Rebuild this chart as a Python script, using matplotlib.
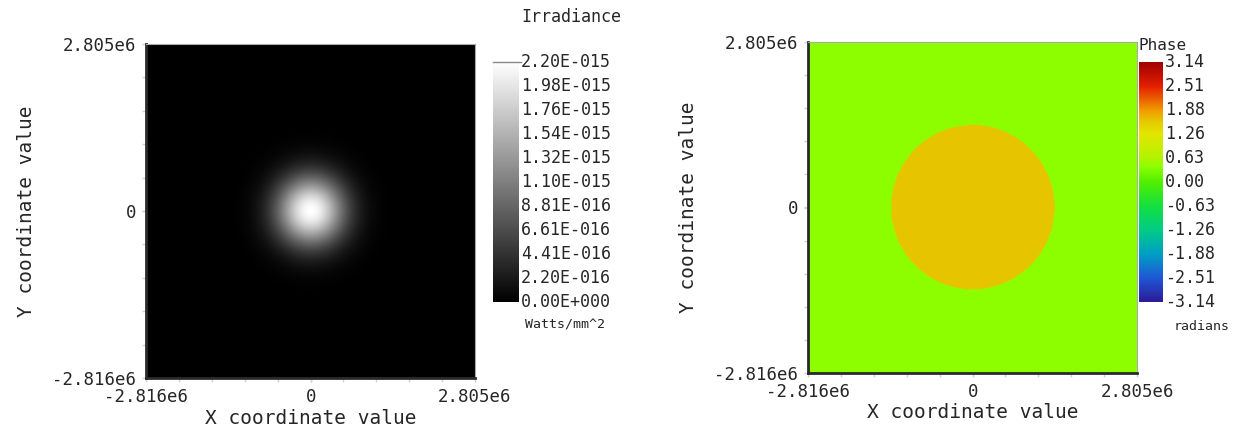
import numpy as np
import matplotlib
matplotlib.use("Agg")
import matplotlib.pyplot as plt
from matplotlib.colors import LinearSegmentedColormap

# detector extent (same for both maps)
x_min, x_max = -2.816e6, 2.805e6
y_min, y_max = -2.816e6, 2.805e6
axis_ticks_x = [-2.816e6, 0, 2.805e6]
axis_ticks_y = [-2.816e6, 0, 2.805e6]
axis_tick_labels_x = ["-2.816e6", "0", "2.805e6"]
axis_tick_labels_y = ["-2.816e6", "0", "2.805e6"]

# irradiance: gaussian spot
peak_irradiance = 2.20e-15        # Watts/mm^2
beam_radius = 0.82e6              # 1/e^2 radius
irr_levels = [2.20e-15, 1.98e-15, 1.76e-15, 1.54e-15, 1.32e-15, 1.10e-15,
              8.81e-16, 6.61e-16, 4.41e-16, 2.20e-16, 0.0]
irr_labels = ["2.20E-015", "1.98E-015", "1.76E-015", "1.54E-015", "1.32E-015",
              "1.10E-015", "8.81E-016", "6.61E-016", "4.41E-016", "2.20E-016",
              "0.00E+000"]

# phase: flat background with a circular step in the middle
phase_background = 0.40
phase_disk = 1.60
disk_radius = 1.40e6
phase_levels = [3.14, 2.51, 1.88, 1.26, 0.63, 0.00, -0.63, -1.26, -1.88, -2.51, -3.14]
phase_labels = ["3.14", "2.51", "1.88", "1.26", "0.63", "0.00",
                "-0.63", "-1.26", "-1.88", "-2.51", "-3.14"]

# phase palette (value, colour)
phase_nodes = [(-3.14, "#2c1c98"), (-2.51, "#1f58d6"), (-1.88, "#00a0c4"),
               (-1.26, "#00cc86"), (-0.63, "#14e040"), (0.00, "#52f000"),
               (0.40, "#8cff00"), (0.63, "#b2f400"), (1.26, "#e4e600"),
               (1.60, "#e6c800"), (1.88, "#f09c00"), (2.51, "#e42000"),
               (3.14, "#a00000")]

pmin, pmax = -3.14, 3.14
phase_cmap = LinearSegmentedColormap.from_list(
    "phase", [((v - pmin) / (pmax - pmin), c) for v, c in phase_nodes])

n = 300
xs = np.linspace(x_min, x_max, n)
ys = np.linspace(y_min, y_max, n)
X, Y = np.meshgrid(xs, ys)
R2 = X ** 2 + Y ** 2
irradiance = peak_irradiance * np.exp(-2 * R2 / beam_radius ** 2)
phase = np.where(R2 <= disk_radius ** 2, phase_disk, phase_background)

mono = "DejaVu Sans Mono"
txt = "#262626"
W, H = 1236, 434
fig = plt.figure(figsize=(W / 100, H / 100), dpi=100)


def px_rect(x0, y0, x1, y1):
    return [x0 / W, 1 - y1 / H, (x1 - x0) / W, (y1 - y0) / H]


def style_axes(ax):
    ax.set_xlim(x_min, x_max)
    ax.set_ylim(y_min, y_max)
    ax.set_xticks(axis_ticks_x)
    ax.set_xticklabels(axis_tick_labels_x, family=mono, fontsize=12.5, color=txt)
    ax.set_yticks(axis_ticks_y)
    ax.set_yticklabels(axis_tick_labels_y, family=mono, fontsize=12.5, color=txt)
    ax.set_xticks(np.linspace(x_min, x_max, 11), minor=True)
    ax.set_yticks(np.linspace(y_min, y_max, 11), minor=True)
    ax.tick_params(which="both", length=3, color="#d0d0d0", width=1, pad=4)
    for side in ("left", "bottom"):
        ax.spines[side].set_color("#2a2a2a")
        ax.spines[side].set_linewidth(2)
    for side in ("top", "right"):
        ax.spines[side].set_color("#aaaaaa")
        ax.spines[side].set_linewidth(0.8)
    ax.set_xlabel("X coordinate value", family=mono, fontsize=14, color=txt, labelpad=2)
    ax.set_ylabel("Y coordinate value", family=mono, fontsize=14, color=txt, labelpad=12)


def level_colorbar(cax, cmap, vmin, vmax, labels, top_line=False):
    grad = np.linspace(vmax, vmin, 256).reshape(-1, 1)
    cax.imshow(grad, aspect="auto", cmap=cmap, vmin=vmin, vmax=vmax,
               extent=[0, 1, 0, 1])
    cax.set_xticks([])
    cax.set_yticks([])
    for s in cax.spines.values():
        s.set_visible(False)
    for i, lab in enumerate(labels):
        yy = 1 - i / (len(labels) - 1)
        cax.text(1.08, yy, lab, transform=cax.transAxes, family=mono,
                 fontsize=12, color=txt, va="center", ha="left")
    if top_line:
        cax.plot([0, 1.08], [1, 1], transform=cax.transAxes, color="#888888",
                 lw=1, clip_on=False)


# irradiance map
ax1 = fig.add_axes(px_rect(146, 44, 475, 378))
ax1.imshow(irradiance, extent=[x_min, x_max, y_min, y_max], origin="lower",
           cmap="gray", vmin=0, vmax=peak_irradiance, aspect="auto",
           interpolation="bilinear")
style_axes(ax1)

cax1 = fig.add_axes(px_rect(493, 62, 519, 302))
level_colorbar(cax1, "gray", 0, peak_irradiance, irr_labels, top_line=True)
fig.text(521 / W, 1 - 17 / H, "Irradiance", family=mono, fontsize=12,
         color=txt, va="center", ha="left")
fig.text(525 / W, 1 - 325 / H, "Watts/mm^2", family=mono, fontsize=9.5,
         color=txt, va="center", ha="left")

# phase map
ax2 = fig.add_axes(px_rect(808, 42, 1137, 373))
ax2.imshow(phase, extent=[x_min, x_max, y_min, y_max], origin="lower",
           cmap=phase_cmap, vmin=pmin, vmax=pmax, aspect="auto",
           interpolation="bilinear")
style_axes(ax2)

cax2 = fig.add_axes(px_rect(1139, 62, 1163, 302))
level_colorbar(cax2, phase_cmap, pmin, pmax, phase_labels)
fig.text(1139 / W, 1 - 45 / H, "Phase", family=mono, fontsize=11.5,
         color=txt, va="center", ha="left")
fig.text(1174 / W, 1 - 327 / H, "radians", family=mono, fontsize=9.5,
         color=txt, va="center", ha="left")

fig.savefig("out.png", dpi=100)
